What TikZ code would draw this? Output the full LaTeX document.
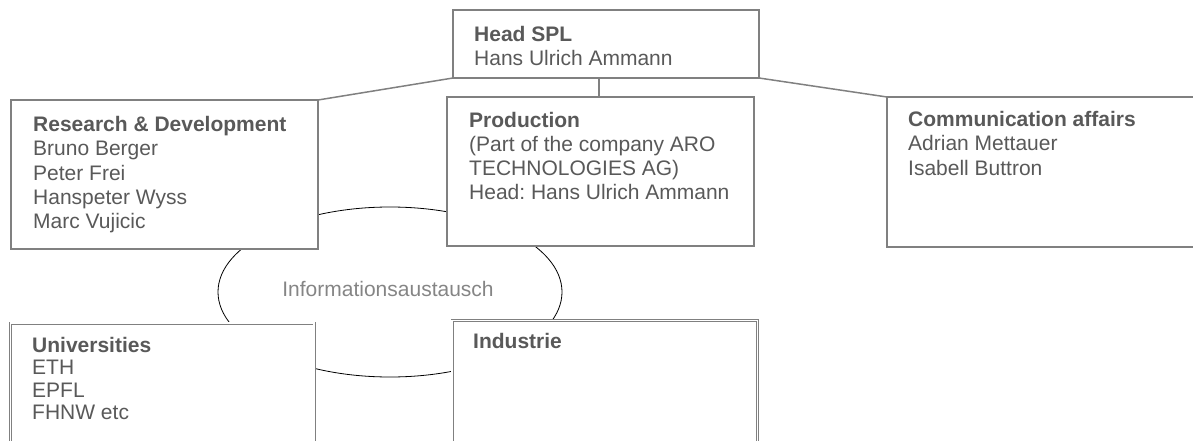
\documentclass[tikz,border=0pt]{standalone}
\usepackage{fontspec}
\setmainfont{Liberation Sans}
\usetikzlibrary{shapes.geometric}
\definecolor{boxgray}{HTML}{808080}
\definecolor{txtgray}{HTML}{595959}
\definecolor{infogray}{HTML}{858585}
\tikzset{
  box/.style={draw=boxgray, line width=1.5pt, fill=white, rectangle, inner sep=0pt, outer sep=0pt},
  dbox/.style={draw=boxgray, line width=0.8pt, double=white, double distance=1.4pt, fill=white, rectangle, inner sep=0pt, outer sep=0pt},
  conn/.style={draw=boxgray, line width=1.5pt},
  txt/.style={anchor=base west, align=left, inner sep=0pt, text=txtgray, font=\fontsize{21}{24.2}\selectfont},
  txtb/.style={txt, font=\fontsize{21}{22.5}\selectfont},
}
\frenchspacing
\begin{document}
\frenchspacing
\begin{tikzpicture}[x=1pt,y=-1pt]
\useasboundingbox (0,0) rectangle (1193,441);
\clip (0,0) rectangle (1193,441);
% exchange ellipse (behind the boxes)
\node[ellipse, draw=black, line width=0.8pt, minimum width=344pt, minimum height=170pt, inner sep=0pt] (info) at (390,292) {};
\node[inner sep=0pt, anchor=base, text=infogray, font=\fontsize{21}{24}\selectfont] (infot) at (388,296.7) {Informationsaustausch};
% boxes
\node[box, minimum width=306pt, minimum height=68pt] (head) at (606,44) {};
\node[box, minimum width=307pt, minimum height=149pt] (rd) at (164.5,174.5) {};
\node[box, minimum width=307pt, minimum height=149pt] (prod) at (600.5,171.5) {};
\node[box, minimum width=323pt, minimum height=150pt] (comm) at (1048.5,172) {};
\node[dbox, minimum width=303.3pt, minimum height=147pt] (uni) at (162.35,396.5) {};
\node[dbox, minimum width=305.5pt, minimum height=147pt] (ind) at (604.75,393.8) {};
% connectors
\draw[conn] (head.south west) -- (rd.north east);
\draw[conn] (head.south east) -- (comm.north west);
\draw[conn] ([xshift=-1.5pt]prod.north) -- ([xshift=-1.5pt]prod.north |- head.south);
% texts (base anchor = baseline of the last line)
\node[txt] (headt) at (474,65.9) {\textbf{Head SPL}\\Hans Ulrich Ammann};
\node[txt] (rdt) at (33,228.5) {\textbf{Research \& Development}\\Bruno Berger\\Peter Frei\\Hanspeter Wyss\\Marc Vujicic};
\node[txt] (prodt) at (469,199.9) {\textbf{Production}\\(Part of the company ARO\\TECHNOLOGIES AG)\\Head: Hans Ulrich Ammann};
\node[txt] (commt) at (908,175.1) {\textbf{Communication affairs}\\Adrian Mettauer\\Isabell Buttron};
\node[txtb] (unit) at (32,419.5) {\textbf{Universities}\\ETH\\EPFL\\FHNW etc};
\node[txtb] (indt) at (473,348.3) {\textbf{Industrie}};
\end{tikzpicture}
\end{document}
